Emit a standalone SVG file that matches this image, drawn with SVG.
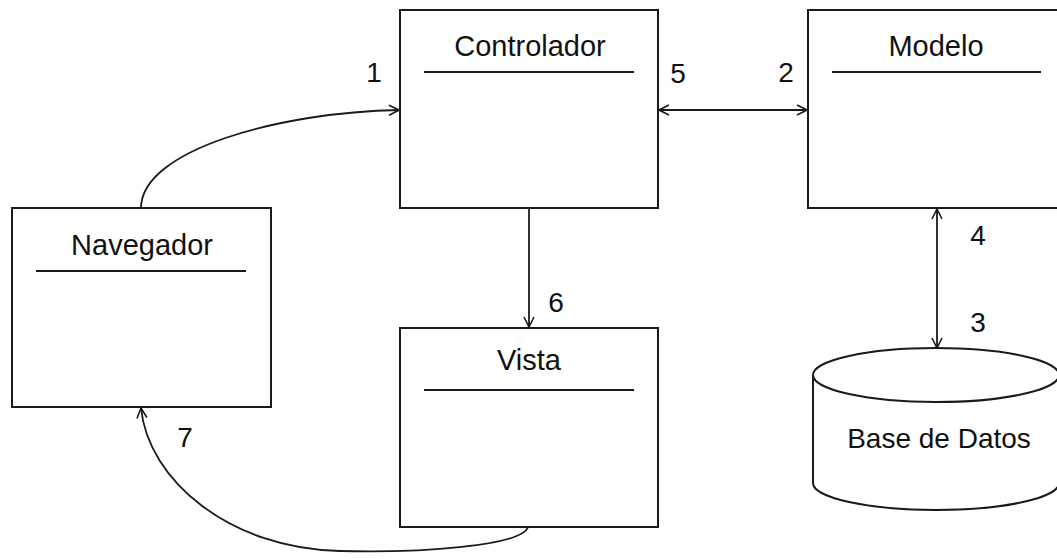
<svg xmlns="http://www.w3.org/2000/svg" width="1057" height="559" viewBox="0 0 1057 559">
<style>
.box{fill:#fff;stroke:#1a1a1a;stroke-width:2}
.sep{stroke:#1a1a1a;stroke-width:2}
.t{font-family:"Liberation Sans",Arial,sans-serif;font-size:29px;fill:#111;text-anchor:middle}
.n{font-family:"Liberation Sans",Arial,sans-serif;font-size:28px;fill:#111;text-anchor:middle}
.c{fill:none;stroke:#1a1a1a;stroke-width:1.8}
</style>
<defs>
<marker id="ah" viewBox="0 0 12 12" refX="11" refY="6" markerWidth="12" markerHeight="12" markerUnits="userSpaceOnUse" orient="auto-start-reverse">
<path d="M1,1 L11,6 L1,11" fill="none" stroke="#1a1a1a" stroke-width="1.6"/>
</marker>
</defs>
<rect width="1057" height="559" fill="#fff"/>
<g id="controlador">
<rect class="box" x="400" y="10" width="258" height="198"/>
<text class="t" x="530" y="56">Controlador</text>
<line class="sep" x1="424" y1="72" x2="634" y2="72"/>
</g>
<g id="modelo">
<rect class="box" x="808" y="10" width="260" height="198"/>
<text class="t" x="936" y="56">Modelo</text>
<line class="sep" x1="832" y1="72" x2="1041" y2="72"/>
</g>
<g id="navegador">
<rect class="box" x="12" y="208" width="259" height="199"/>
<text class="t" x="142" y="255">Navegador</text>
<line class="sep" x1="36" y1="271" x2="246" y2="271"/>
</g>
<g id="vista">
<rect class="box" x="400" y="328" width="258" height="199"/>
<text class="t" x="529" y="370">Vista</text>
<line class="sep" x1="424" y1="390" x2="634" y2="390"/>
</g>
<g id="basededatos">
<path class="box" d="M813,375 L813,483 A123,27 0 0 0 1059,483 L1059,375"/>
<ellipse class="box" cx="936" cy="375" rx="123" ry="27"/>
<text class="t" x="939" y="448" style="font-size:28px">Base de Datos</text>
</g>
<g id="connectors">
<path class="c" d="M141,208 C141,150 280,112 399,110" marker-end="url(#ah)"/>
<line class="c" x1="659" y1="110" x2="807" y2="110" marker-start="url(#ah)" marker-end="url(#ah)"/>
<line class="c" x1="529" y1="208" x2="529" y2="327" marker-end="url(#ah)"/>
<line class="c" x1="937" y1="209" x2="937" y2="348" marker-start="url(#ah)" marker-end="url(#ah)"/>
<path class="c" d="M528,527 C522,546 420,553 340,551 C230,549 148,480 141,408" marker-end="url(#ah)"/>
</g>
<g id="labels">
<text class="n" x="374" y="82">1</text>
<text class="n" x="678" y="83">5</text>
<text class="n" x="786" y="82">2</text>
<text class="n" x="978" y="245">4</text>
<text class="n" x="978" y="332">3</text>
<text class="n" x="556" y="312">6</text>
<text class="n" x="185" y="447">7</text>
</g>
</svg>
